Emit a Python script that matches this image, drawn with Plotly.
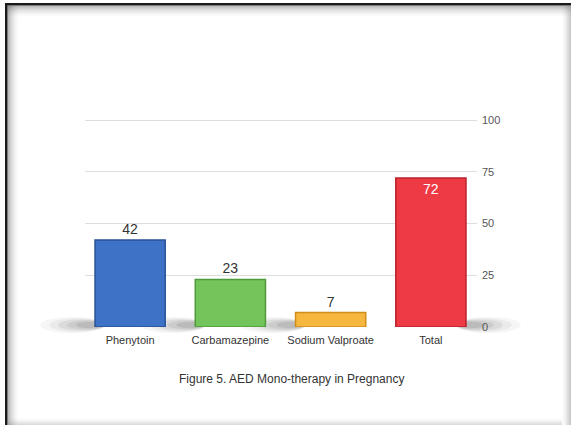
import plotly.graph_objects as go

categories = ["Phenytoin", "Carbamazepine", "Sodium Valproate", "Total"]
values = [42, 23, 7, 72]
bar_colors = ["#3d72c6", "#74c45c", "#f6b73f", "#ee3a45"]
edge_colors = ["#2a5296", "#4f9a3c", "#d08d1c", "#b9222c"]
text_positions = ["outside", "outside", "outside", "inside"]
text_colors = ["#333333", "#333333", "#333333", "#ffffff"]
tick_vals = [0, 25, 50, 75, 100]
caption = "Figure 5. AED Mono-therapy in Pregnancy"

W, H = 571, 425
L, R, T, B = 85, 477, 119, 327  # plot area in pixels
PW, PH = R - L, B - T
XR = [-0.45, 3.46]
YR = [0, 100.5]

def px(p):
    return (p - L) / PW

def py(p):
    return (B - p) / PH

def cat_px(i):
    return L + (i - XR[0]) / (XR[1] - XR[0]) * PW

fig = go.Figure()
fig.add_trace(go.Bar(
    x=categories, y=values, width=0.7,
    marker=dict(color=bar_colors, line=dict(color=edge_colors, width=1.5)),
    text=[str(v) for v in values], textposition=text_positions,
    insidetextanchor="end",
    textfont=dict(size=14, color=text_colors, family="Liberation Sans, Arial, sans-serif"),
    outsidetextfont=dict(size=14, color="#333333"),
    insidetextfont=dict(size=14, color="#ffffff"),
    cliponaxis=False,
))

shapes = []
# soft floor shadows next to each bar (left of first three, right of total)
for i, v in enumerate(values):
    c = cat_px(i)
    for k, op in enumerate([0.05, 0.07, 0.09, 0.11, 0.13]):
        if i < 3:
            a, b = c - 90 + k * 9, c - 25
        else:
            a, b = c + 25, c + 90 - k * 9
        shapes.append(dict(type="circle", xref="paper", yref="paper", layer="below",
                           x0=px(a), x1=px(b), y0=py(333 - k * 1.2), y1=py(317 + k * 1.2),
                           fillcolor="rgba(80,80,80,%.2f)" % op, line=dict(width=0)))

# frame: dark left/top lines with inner shadow, gray right/bottom gradients
shapes.append(dict(type="rect", xref="paper", yref="paper", x0=px(5), x1=px(7.5), y0=py(3), y1=py(425),
                   fillcolor="#1a1a1a", line=dict(width=0), layer="above"))
shapes.append(dict(type="rect", xref="paper", yref="paper", x0=px(5), x1=px(571), y0=py(3), y1=py(5.5),
                   fillcolor="#1a1a1a", line=dict(width=0), layer="above"))
for k in range(12):
    op = 0.40 * (1 - k / 12) ** 2
    c = "rgba(60,60,60,%.3f)" % op
    shapes.append(dict(type="rect", xref="paper", yref="paper", x0=px(7.5 + k), x1=px(8.5 + k),
                       y0=py(5.5), y1=py(425), fillcolor=c, line=dict(width=0), layer="above"))
    shapes.append(dict(type="rect", xref="paper", yref="paper", x0=px(7.5), x1=px(571),
                       y0=py(5.5 + k), y1=py(6.5 + k), fillcolor=c, line=dict(width=0), layer="above"))
for k in range(9):
    op = 0.38 * ((k + 1) / 9) ** 1.5
    c = "rgba(110,110,110,%.3f)" % op
    shapes.append(dict(type="rect", xref="paper", yref="paper", x0=px(562 + k), x1=px(563 + k),
                       y0=py(5.5), y1=py(425), fillcolor=c, line=dict(width=0), layer="above"))
for k in range(7):
    op = 0.25 * ((k + 1) / 7) ** 1.5
    c = "rgba(110,110,110,%.3f)" % op
    shapes.append(dict(type="rect", xref="paper", yref="paper", x0=px(7.5), x1=px(562),
                       y0=py(418 + k), y1=py(419 + k), fillcolor=c, line=dict(width=0), layer="above"))

fig.update_layout(
    width=W, height=H,
    margin=dict(l=L, r=W - R, t=T, b=H - B, pad=0),
    paper_bgcolor="white", plot_bgcolor="white",
    showlegend=False,
    font=dict(family="Liberation Sans, Arial, sans-serif", color="#333333", size=11),
    shapes=shapes,
    bargap=0.3,
    annotations=[dict(text=caption, xref="paper", yref="paper", x=px(291), y=py(379),
                      xanchor="center", yanchor="middle", showarrow=False,
                      font=dict(size=12, color="#333333"))],
)
fig.update_xaxes(range=XR, showgrid=False, showline=False, zeroline=False,
                 ticks="", tickfont=dict(size=11, color="#333333"), ticklabelstandoff=5)
fig.update_yaxes(range=YR, side="right", tickvals=tick_vals, showgrid=True,
                 gridcolor="#dddddd", gridwidth=1, zeroline=False, showline=False,
                 ticks="", tickfont=dict(size=11, color="#555555"), ticklabelstandoff=4)

fig.write_html("out.html")
